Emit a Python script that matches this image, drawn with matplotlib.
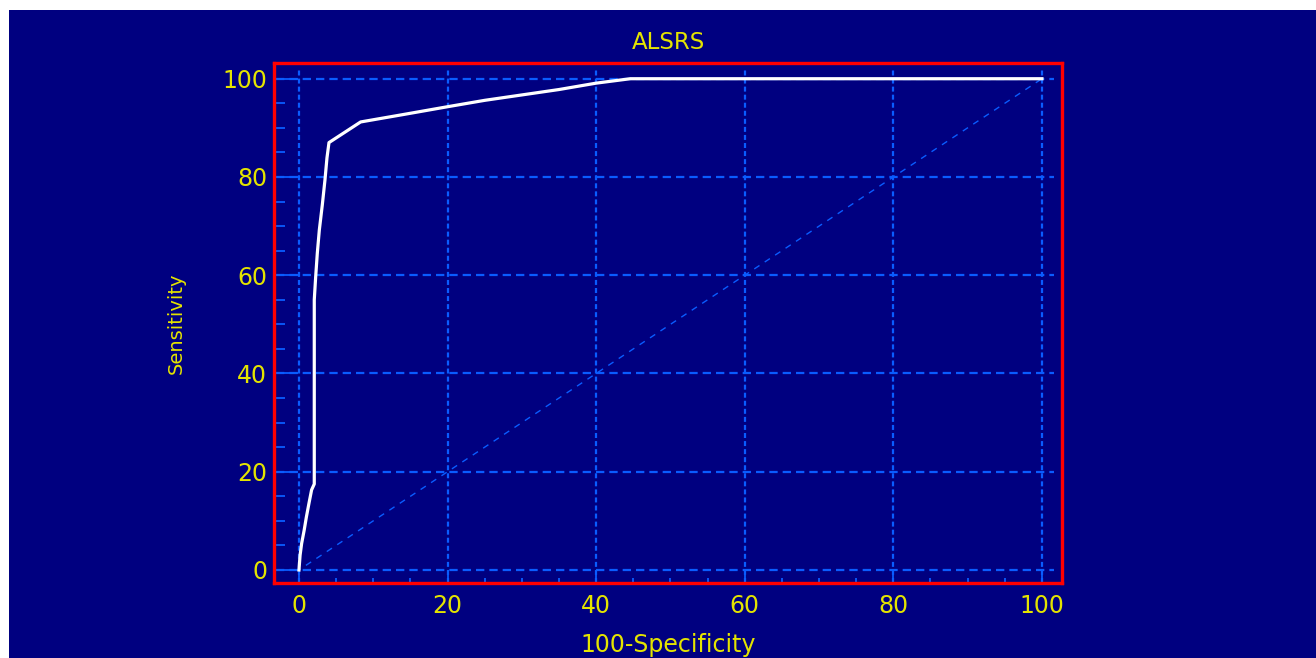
import numpy as np
import matplotlib
matplotlib.use("Agg")
import matplotlib.pyplot as plt
from matplotlib.patches import Rectangle
from matplotlib.ticker import MultipleLocator

plt.rcParams['font.family'] = ['DejaVu Sans']
plt.rcParams['lines.scale_dashes'] = False

# ROC curve for ALSRS (100-Specificity vs Sensitivity, in %)
fpr = [0, 0.15, 0.36, 0.7, 1.0, 1.35, 1.7, 2.06, 2.06, 2.25, 2.47, 2.74, 3.14, 3.5,
       3.77, 4.04, 8.3, 14, 20, 25, 30, 35, 40, 44.6, 100]
tpr = [0, 3, 5.4, 8.1, 10.8, 13.6, 16.3, 17.5, 55, 59.7, 64.5, 69.2, 74.3, 79.4,
       83.9, 87, 91.2, 92.7, 94.3, 95.6, 96.7, 97.8, 99.1, 100, 100]
ticks = [0, 20, 40, 60, 80, 100]

navy = '#000080'
blue = '#0a5cff'
yellow = '#e4e400'

fig = plt.figure(figsize=(13.16, 6.58), dpi=100)
fig.patch.set_facecolor('white')
fig.patches.append(Rectangle((9 / 1316, 0), 1, 648 / 658, transform=fig.transFigure,
                             facecolor=navy, edgecolor='none', zorder=-10))

ax = fig.add_axes([274 / 1316, 75 / 658, 788 / 1316, 520 / 658])
ax.set_facecolor(navy)
ax.set_xlim(-3.36, 102.7)
ax.set_ylim(-2.65, 103.2)

# grid lines
ax.hlines(ticks, -3.1, 101.6, colors=blue, lw=1.6, linestyles=(0, (6, 3.6)), zorder=1)
ax.vlines(ticks, -2.65, 102.2, colors=blue, lw=1.6, linestyles=(0, (3.6, 2.2)), zorder=1)

# chance diagonal
ax.plot([0, 100], [0, 100], color=blue, lw=1.0, ls=(3, (4.5, 4.5)), zorder=2)

# ROC curve
ax.plot(fpr, tpr, color='white', lw=2.3, zorder=3, solid_joinstyle='round')

for side in ax.spines.values():
    side.set_color('#ff0000')
    side.set_linewidth(2.4)

ax.xaxis.set_major_locator(MultipleLocator(20))
ax.xaxis.set_minor_locator(MultipleLocator(5))
ax.yaxis.set_major_locator(MultipleLocator(20))
ax.yaxis.set_minor_locator(MultipleLocator(5))
ax.tick_params(axis='x', which='major', direction='in', length=9.4, width=1.3,
               color=blue, labelcolor=yellow, labelsize=17, pad=8)
ax.tick_params(axis='x', which='minor', direction='in', length=3.8, width=1.3, color=blue)
ax.tick_params(axis='y', which='major', direction='in', length=17, width=1.3,
               color=blue, labelcolor=yellow, labelsize=17, pad=5)
ax.tick_params(axis='y', which='minor', direction='in', length=8, width=1.3, color=blue)

ax.text(0.5, 1.04, 'ALSRS', transform=ax.transAxes, ha='center', va='center',
        color=yellow, fontsize=16.5)
ax.text(0.5, -0.12, '100-Specificity', transform=ax.transAxes, ha='center', va='center',
        color=yellow, fontsize=17)
ax.text(-0.124, 0.5, 'Sensitivity', transform=ax.transAxes, ha='center', va='center',
        rotation=90, color=yellow, fontsize=14)

fig.savefig('out.png', dpi=100, facecolor=fig.get_facecolor())
